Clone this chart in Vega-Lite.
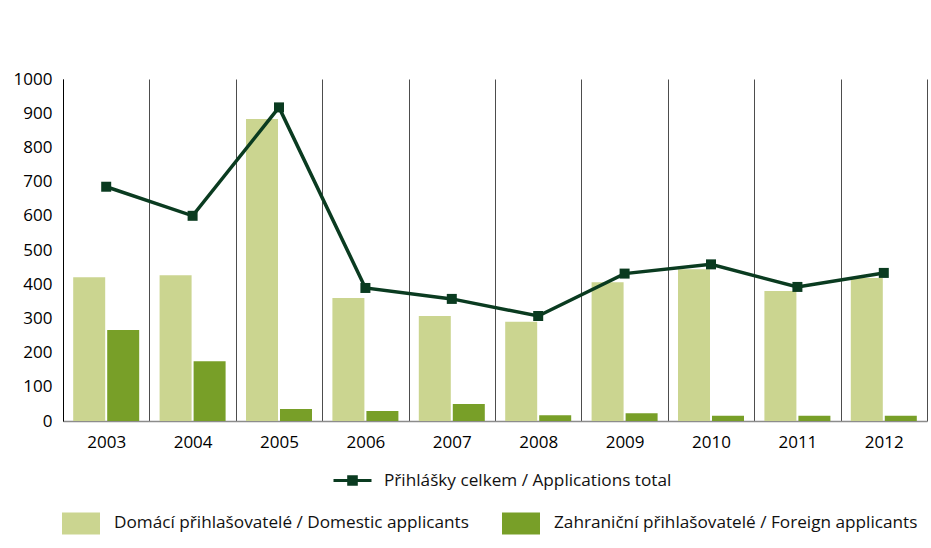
{
  "$schema": "https://vega.github.io/schema/vega-lite/v6.json",
  "width": 864,
  "height": 342,
  "autosize": {"type": "none"},
  "padding": {"left": 63, "top": 79, "right": 4, "bottom": 127},
  "background": "white",
  "config": {
    "view": {"stroke": null},
    "font": "Open Sans",
    "axis": {"labelFont": "Open Sans", "labelColor": "#000000", "labelFontSize": 17, "title": null},
    "legend": {"labelFont": "Open Sans", "labelColor": "#111111", "labelFontSize": 17.2}
  },
  "datasets": {
    "bars": [
      {"year": "2003", "type": "Domácí přihlašovatelé / Domestic applicants", "value": 420},
      {"year": "2003", "type": "Zahraniční přihlašovatelé / Foreign applicants", "value": 266},
      {"year": "2004", "type": "Domácí přihlašovatelé / Domestic applicants", "value": 426},
      {"year": "2004", "type": "Zahraniční přihlašovatelé / Foreign applicants", "value": 175},
      {"year": "2005", "type": "Domácí přihlašovatelé / Domestic applicants", "value": 883},
      {"year": "2005", "type": "Zahraniční přihlašovatelé / Foreign applicants", "value": 35},
      {"year": "2006", "type": "Domácí přihlašovatelé / Domestic applicants", "value": 360},
      {"year": "2006", "type": "Zahraniční přihlašovatelé / Foreign applicants", "value": 29},
      {"year": "2007", "type": "Domácí přihlašovatelé / Domestic applicants", "value": 307},
      {"year": "2007", "type": "Zahraniční přihlašovatelé / Foreign applicants", "value": 50},
      {"year": "2008", "type": "Domácí přihlašovatelé / Domestic applicants", "value": 290},
      {"year": "2008", "type": "Zahraniční přihlašovatelé / Foreign applicants", "value": 17},
      {"year": "2009", "type": "Domácí přihlašovatelé / Domestic applicants", "value": 406},
      {"year": "2009", "type": "Zahraniční přihlašovatelé / Foreign applicants", "value": 23},
      {"year": "2010", "type": "Domácí přihlašovatelé / Domestic applicants", "value": 444},
      {"year": "2010", "type": "Zahraniční přihlašovatelé / Foreign applicants", "value": 15},
      {"year": "2011", "type": "Domácí přihlašovatelé / Domestic applicants", "value": 380},
      {"year": "2011", "type": "Zahraniční přihlašovatelé / Foreign applicants", "value": 15},
      {"year": "2012", "type": "Domácí přihlašovatelé / Domestic applicants", "value": 418},
      {"year": "2012", "type": "Zahraniční přihlašovatelé / Foreign applicants", "value": 15}
    ],
    "total": [
      {"year": "2003", "total": 685, "series": "Přihlášky celkem / Applications total"},
      {"year": "2004", "total": 600, "series": "Přihlášky celkem / Applications total"},
      {"year": "2005", "total": 917, "series": "Přihlášky celkem / Applications total"},
      {"year": "2006", "total": 389, "series": "Přihlášky celkem / Applications total"},
      {"year": "2007", "total": 357, "series": "Přihlášky celkem / Applications total"},
      {"year": "2008", "total": 307, "series": "Přihlášky celkem / Applications total"},
      {"year": "2009", "total": 431, "series": "Přihlášky celkem / Applications total"},
      {"year": "2010", "total": 458, "series": "Přihlášky celkem / Applications total"},
      {"year": "2011", "total": 392, "series": "Přihlášky celkem / Applications total"},
      {"year": "2012", "total": 433, "series": "Přihlášky celkem / Applications total"}
    ]
  },
  "layer": [
    {
      "data": {"name": "bars"},
      "mark": {"type": "bar"},
      "encoding": {
        "x": {
          "field": "year",
          "type": "ordinal",
          "scale": {"paddingInner": 0, "paddingOuter": 0},
          "axis": {
            "labelAngle": 0,
            "ticks": false,
            "tickBand": "extent",
            "grid": true,
            "gridColor": "#4d4d4d",
            "gridWidth": 1,
            "domainColor": "#8c8c8c",
            "domainWidth": 1.5,
            "labelPadding": 13
          }
        },
        "xOffset": {
          "field": "type",
          "sort": ["Domácí přihlašovatelé / Domestic applicants", "Zahraniční přihlašovatelé / Foreign applicants"],
          "scale": {"paddingInner": 0.0588, "paddingOuter": 0.3}
        },
        "y": {
          "field": "value",
          "type": "quantitative",
          "scale": {"domain": [0, 1000]},
          "axis": {
            "values": [0, 100, 200, 300, 400, 500, 600, 700, 800, 900, 1000],
            "tickCount": 11,
            "format": "d",
            "labelOverlap": false,
            "labelBound": false,
            "ticks": false,
            "grid": false,
            "domainColor": "#000000",
            "domainWidth": 1,
            "labelPadding": 11
          }
        },
        "fill": {
          "field": "type",
          "type": "nominal",
          "scale": {
            "domain": ["Domácí přihlašovatelé / Domestic applicants", "Zahraniční přihlašovatelé / Foreign applicants"],
            "range": ["#cbd590", "#789f28"]
          },
          "legend": {
            "title": null,
            "orient": "none",
            "legendX": -1,
            "legendY": 425,
            "direction": "horizontal",
            "symbolType": "M-1,-0.58H1V0.58H-1Z",
            "symbolSize": 1444,
            "symbolStrokeWidth": 0,
            "labelOffset": 14,
            "columnPadding": 33,
            "labelLimit": 0
          }
        }
      }
    },
    {
      "data": {"name": "total"},
      "mark": {
        "type": "line",
        "strokeWidth": 3.5,
        "point": {"shape": "square", "size": 100, "filled": true}
      },
      "encoding": {
        "x": {"field": "year", "type": "ordinal"},
        "y": {
          "field": "total",
          "type": "quantitative",
          "axis": {
            "values": [0, 100, 200, 300, 400, 500, 600, 700, 800, 900, 1000],
            "tickCount": 11,
            "format": "d",
            "labelOverlap": false,
            "labelBound": false,
            "ticks": false,
            "grid": false,
            "domainColor": "#000000",
            "domainWidth": 1,
            "labelPadding": 11
          }
        },
        "color": {
          "field": "series",
          "type": "nominal",
          "scale": {"range": ["#0a3b20"]},
          "legend": {
            "title": null,
            "orient": "none",
            "legendX": 269,
            "legendY": 381,
            "symbolType": "M-1,0H1M-0.2,-0.2H0.2V0.2H-0.2Z",
            "symbolSize": 1444,
            "labelOffset": 11,
            "labelLimit": 0,
            "encode": {
              "symbols": {
                "update": {
                  "fill": {"value": "#0a3b20"},
                  "stroke": {"value": "#0a3b20"},
                  "strokeWidth": {"value": 3},
                  "opacity": {"value": 1}
                }
              }
            }
          }
        }
      }
    }
  ]
}
